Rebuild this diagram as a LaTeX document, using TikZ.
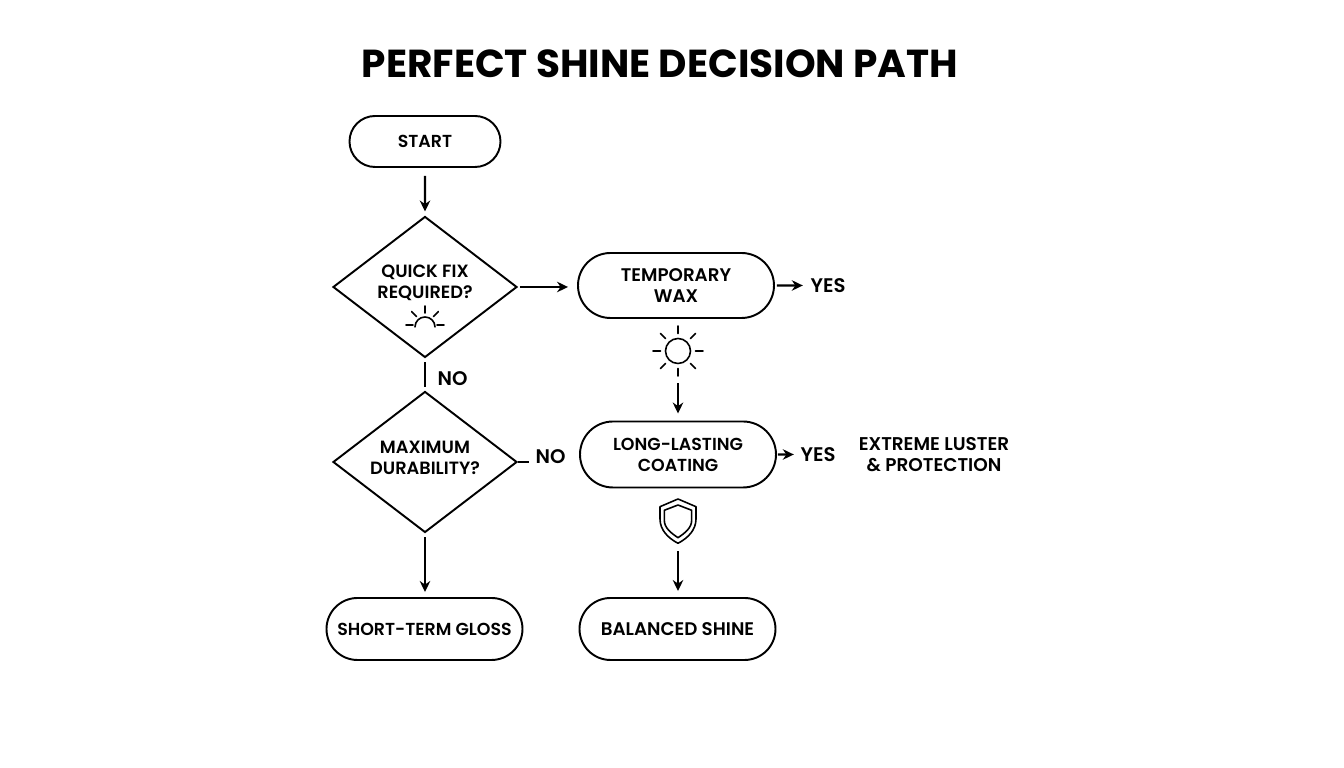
\documentclass[tikz,border=0pt]{standalone}
\usepackage{fontspec}
\setmainfont[UprightFont={* SemiBold},BoldFont={* Bold}]{Poppins}
\usetikzlibrary{arrows.meta,shapes.geometric,shapes.misc}
\tikzset{
    pill/.style={draw, rounded rectangle, line width=0.55pt, inner sep=0pt, minimum width=1.96cm, minimum height=0.64cm, align=center, font=\fontsize{4.95}{6}\selectfont},
    widepill/.style={pill, font=\fontsize{5.2}{6}\selectfont},
    decision/.style={draw, diamond, aspect=1.305, line width=0.55pt, inner sep=0pt, minimum width=1.84cm, minimum height=1.41cm},
    lbl/.style={inner sep=0pt, align=center, font=\fontsize{5.05}{6}\selectfont},
    answer/.style={inner sep=0pt, font=\fontsize{5.6}{6}\selectfont},
    flow/.style={line width=0.6pt, -{Stealth[length=0.11cm, width=0.105cm]}},
    plain/.style={line width=0.6pt},
    icon/.style={line width=0.45pt, line cap=round}
}
\begin{document}
\begin{tikzpicture}
    \useasboundingbox (0, 0) rectangle (13.44, 7.68);

    % Title
    \node[inner sep=0pt, font=\fontsize{11.1}{12}\bfseries] (title) at (6.60, 7.04) {PERFECT SHINE DECISION PATH};

    % Left column
    \node[pill, minimum width=1.51cm, minimum height=0.51cm] (start) at (4.25, 6.265) {START};
    \node[decision] (quick) at (4.25, 4.81) {};
    \node[lbl] (quicktext) at (4.25, 4.85) {QUICK FIX\\REQUIRED?};
    \node[decision] (durable) at (4.25, 3.06) {};
    \node[lbl] (durabletext) at (4.25, 3.105) {MAXIMUM\\DURABILITY?};
    \node[pill, minimum height=0.62cm] (gloss) at (4.245, 1.39) {SHORT-TERM GLOSS};

    % Right column
    \node[widepill, minimum height=0.65cm] (wax) at (6.76, 4.825) {TEMPORARY\\WAX};
    \node[pill, minimum height=0.66cm] (coating) at (6.78, 3.135) {LONG-LASTING\\COATING};
    \node[widepill, minimum height=0.62cm] (balanced) at (6.775, 1.39) {BALANCED SHINE};

    % Answers
    \node[answer] (noa) at (4.525, 3.89) {NO};
    \node[answer] (nob) at (5.505, 3.11) {NO};
    \node[answer] (yesa) at (8.28, 4.825) {YES};
    \node[answer] (yesb) at (8.18, 3.135) {YES};
    \node[lbl, font=\fontsize{5.25}{6}\selectfont] (luster) at (9.34, 3.135) {EXTREME LUSTER\\\& PROTECTION};

    % Small sun inside the first diamond
    \draw[icon] (4.15, 4.41) arc (180:0:0.10);
    \foreach \a in {0, 45, 90, 135, 180} {
        \draw[icon] ([shift={(\a:0.12)}] 4.25, 4.43) -- ([shift={(\a:0.19)}] 4.25, 4.43);
    }

    % Big sun
    \node[circle, draw, line width=0.45pt, inner sep=0pt, minimum size=0.25cm] (sun) at (6.78, 4.17) {};
    \foreach \a in {0, 45, ..., 315} {
        \draw[icon] ([shift={(\a:0.175)}] sun.center) -- ([shift={(\a:0.25)}] sun.center);
    }

    % Shield
    \coordinate (shield) at (6.78, 2.247);
    \draw[icon, line join=round] (6.78, 2.69) -- (6.96, 2.613) -- (6.96, 2.49) .. controls (6.96, 2.38) and (6.88, 2.30) .. (shield) .. controls (6.68, 2.30) and (6.60, 2.38) .. (6.60, 2.49) -- (6.60, 2.613) -- cycle;
    \draw[icon, line join=round] (6.78, 2.63) -- (6.917, 2.577) -- (6.917, 2.48) .. controls (6.917, 2.40) and (6.85, 2.35) .. (6.78, 2.303) .. controls (6.71, 2.35) and (6.643, 2.40) .. (6.643, 2.48) -- (6.643, 2.577) -- cycle;

    % Connectors
    \draw[flow, shorten <=0.08cm, shorten >=0.04cm] (start) -- (quick);
    \draw[flow, shorten <=0.02cm, shorten >=0.09cm] (quick) -- (quick -| wax.west);
    \draw[plain, shorten <=0.04cm, shorten >=0.04cm] (quick) -- (durable);
    \draw[flow, shorten <=0.04cm, shorten >=0.05cm] (durable) -- (durable |- gloss.north);
    \draw[plain, shorten >=0.06cm] (durable) -- (durable -| nob.west);
    \draw[flow, shorten <=0.02cm, shorten >=0.07cm] (wax) -- (yesa);
    \draw[flow, shorten <=0.19cm, shorten >=0.07cm] (sun) -- (sun |- coating.north);
    \draw[flow, shorten <=0.01cm, shorten >=0.06cm] (coating) -- (yesb);
    \draw[flow, shorten <=0.08cm, shorten >=0.06cm] (shield) -- (shield |- balanced.north);
\end{tikzpicture}
\end{document}
